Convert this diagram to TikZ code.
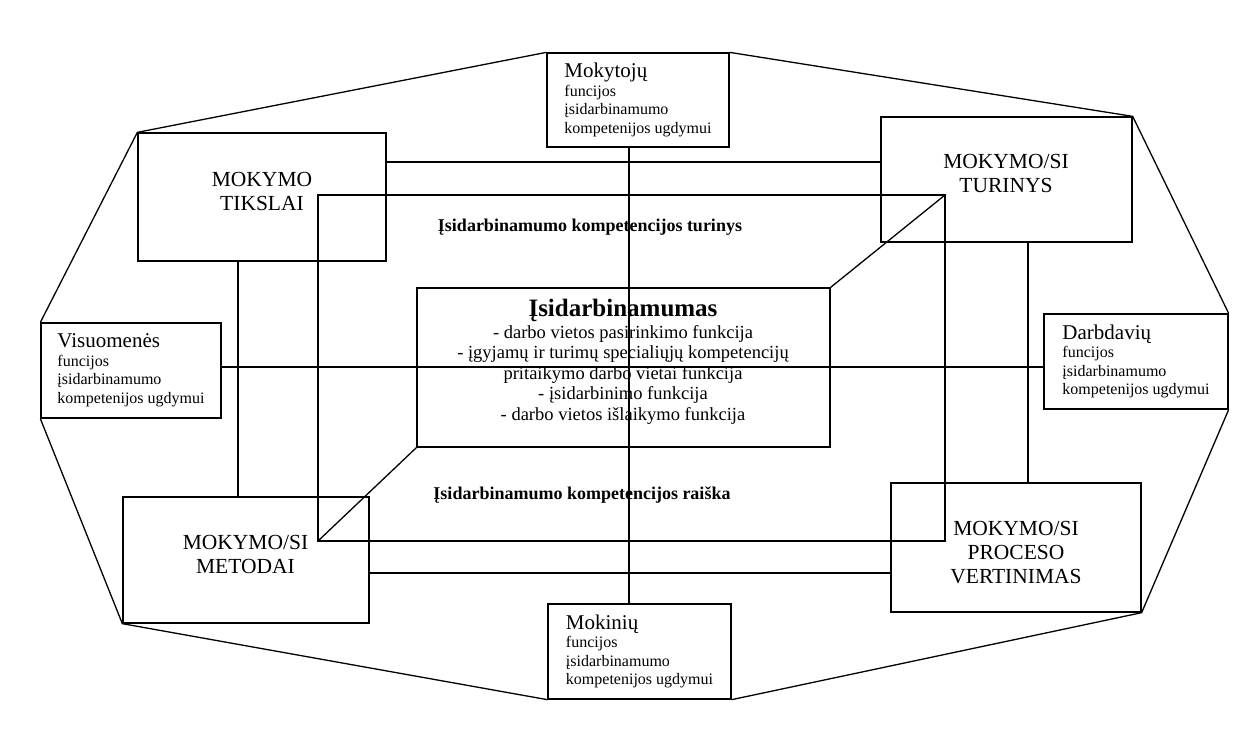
\documentclass[tikz,border=0pt]{standalone}
\usepackage{fontspec}
\setmainfont{Liberation Serif}
\begin{document}
\begin{tikzpicture}[x=1pt,y=-1pt,line width=1.3pt,
  box/.style={draw, rectangle, inner sep=0pt},
  big/.style={font=\fontsize{21.5}{24}\selectfont, align=center, inner sep=0pt},
  small/.style={font=\fontsize{16}{18.5}\selectfont, align=left},
  head/.style={font=\fontsize{21}{22}\selectfont},
  lab/.style={font=\fontsize{18}{20}\selectfont\bfseries, inner sep=0pt}]
\useasboundingbox (0,0) rectangle (1252,729);
% main boxes
\node[box, minimum width=248pt, minimum height=128pt] (tiks) at (262,197) {};
\node[big] (tikst) at (262,191) {MOKYMO\\TIKSLAI};
\node[box, minimum width=251pt, minimum height=125pt] (tur) at (1006.5,179.5) {};
\node[big] (turt) at (1006,173.5) {MOKYMO/SI\\TURINYS};
\node[box, minimum width=246pt, minimum height=126pt] (met) at (246,560) {};
\node[big] (mett) at (245.5,554.5) {MOKYMO/SI\\METODAI};
\node[box, minimum width=250pt, minimum height=129pt] (vert) at (1016,547.5) {};
\node[big] (vertt) at (1016,553) {MOKYMO/SI\\PROCESO\\VERTINIMAS};
% function boxes
\node[box, small, minimum width=182pt, minimum height=94pt] (mokyt) at (638,100)
  {{\fontsize{21}{22}\selectfont Mokytojų}\\funcijos\\įsidarbinamumo\\kompetenijos ugdymui};
\node[box, small, minimum width=183pt, minimum height=95pt] (mokin) at (639.5,651.5)
  {{\fontsize{21}{22}\selectfont Mokinių}\\funcijos\\įsidarbinamumo\\kompetenijos ugdymui};
\node[box, small, minimum width=180pt, minimum height=95pt] (visu) at (131,370.5)
  {{\fontsize{21}{22}\selectfont Visuomenės}\\funcijos\\įsidarbinamumo\\kompetenijos ugdymui};
\node[box, small, minimum width=184pt, minimum height=95pt] (darb) at (1136,361.5)
  {{\fontsize{21}{22}\selectfont Darbdavių}\\funcijos\\įsidarbinamumo\\kompetenijos ugdymui};
% central box
\node[box, minimum width=413pt, minimum height=159pt] (cen) at (623.5,367.5) {};
\node[font=\fontsize{18.5}{20.5}\selectfont, align=center, inner sep=0pt] (cent) at (623,362)
  {{\fontsize{25}{26}\selectfont\bfseries Įsidarbinamumas}\\[1pt]
   - darbo vietos pasirinkimo funkcija\\
   - įgyjamų ir turimų specialiųjų kompetencijų\\
   pritaikymo darbo vietai funkcija\\
   - įsidarbinimo funkcija\\
   - darbo vietos išlaikymo funkcija};
% labels
\node[lab] (lt) at (590,227) {Įsidarbinamumo kompetencijos turinys};
\node[lab] (lr) at (582,495) {Įsidarbinamumo kompetencijos raiška};
% connectors
\draw (tiks.east |- 0,162) -- (tur.west |- 0,162);
\draw (met.east |- 0,573) -- (vert.west |- 0,573);
\draw (tiks.south -| 238,0) -- (met.north -| 238,0);
\draw (tur.south -| 1028,0) -- (vert.north -| 1028,0);
\draw (mokyt.south -| 629,0) -- (mokin.north -| 629,0);
\draw (visu.east |- 0,367) -- (darb.west |- 0,367);
% inner rectangle and diagonals
\coordinate (ia) at (318,195);
\coordinate (ib) at (945,541);
\draw (ia) rectangle (ib);
\draw (ia -| ib) -- (cen.north east);
\draw (ia |- ib) -- (cen.south west);
% outer octagon
\draw (visu.north west) -- (tiks.north west) -- (mokyt.north west);
\draw (mokyt.north east) -- (tur.north east) -- (darb.north east);
\draw (darb.south east) -- (vert.south east) -- (mokin.south east);
\draw (mokin.south west) -- (met.south west) -- (visu.south west);
\end{tikzpicture}
\end{document}
